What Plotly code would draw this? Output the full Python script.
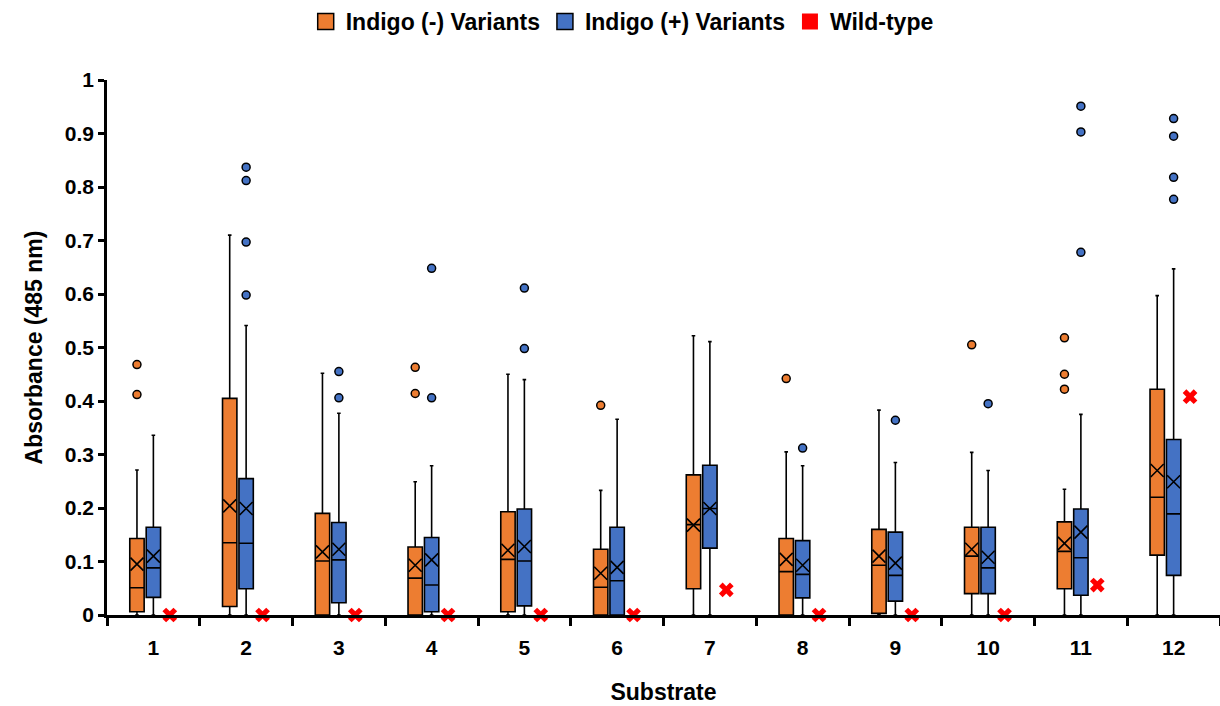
import plotly.graph_objects as go

categories = list(range(1, 12 + 1))
tick_labels = [str(c) for c in categories]

# Indigo (-) Variants
neg_q1 = [0.006, 0.016, 0.0, 0.0, 0.006, 0.0, 0.049, 0.0, 0.003, 0.040, 0.049, 0.112]
neg_median = [0.051, 0.135, 0.101, 0.069, 0.104, 0.052, 0.169, 0.081, 0.093, 0.110, 0.119, 0.220]
neg_q3 = [0.143, 0.405, 0.190, 0.127, 0.193, 0.123, 0.262, 0.143, 0.160, 0.164, 0.174, 0.422]
neg_mean = [0.095, 0.204, 0.118, 0.093, 0.121, 0.078, 0.168, 0.104, 0.110, 0.123, 0.134, 0.270]
neg_lower = [0.0] * 12
neg_upper = [0.271, 0.710, 0.452, 0.249, 0.450, 0.233, 0.522, 0.305, 0.383, 0.304, 0.235, 0.597]
neg_outliers = [[0.468, 0.412], [], [], [0.463, 0.414], [], [0.392], [], [0.442], [], [0.505],
                [0.518, 0.450, 0.422], []]

# Indigo (+) Variants
pos_q1 = [0.033, 0.049, 0.023, 0.006, 0.017, 0.0, 0.125, 0.032, 0.026, 0.040, 0.037, 0.074]
pos_median = [0.088, 0.134, 0.103, 0.056, 0.101, 0.064, 0.199, 0.076, 0.074, 0.088, 0.107, 0.189]
pos_q3 = [0.164, 0.255, 0.173, 0.145, 0.198, 0.164, 0.280, 0.139, 0.155, 0.164, 0.198, 0.328]
pos_mean = [0.110, 0.199, 0.123, 0.103, 0.128, 0.089, 0.199, 0.093, 0.097, 0.108, 0.155, 0.249]
pos_lower = [0.0] * 12
pos_upper = [0.336, 0.541, 0.377, 0.279, 0.440, 0.366, 0.511, 0.279, 0.285, 0.270, 0.375, 0.647]
pos_outliers = [[], [0.837, 0.812, 0.697, 0.598], [0.455, 0.406], [0.648, 0.406], [0.611, 0.498],
                [], [], [0.312], [0.364], [0.395], [0.951, 0.903, 0.678], [0.928, 0.895, 0.818, 0.777]]

# Wild-type
wild_type = [0.0, 0.0, 0.0, 0.0, 0.0, 0.0, 0.047, 0.0, 0.0, 0.0, 0.056, 0.408]

ORANGE = "#ED7D31"
BLUE = "#4472C4"
RED = "#FF0000"
FONT = "Liberation Sans"

OFF = 0.177
BOXW = 0.155

x_neg = [c - OFF for c in categories]
x_pos = [c for c in categories]
x_wt = [c + OFF for c in categories]

fig = go.Figure()

for xs, q1, med, q3, lo, up, color in [
    (x_neg, neg_q1, neg_median, neg_q3, neg_lower, neg_upper, ORANGE),
    (x_pos, pos_q1, pos_median, pos_q3, pos_lower, pos_upper, BLUE),
]:
    fig.add_trace(go.Box(
        x=xs, q1=q1, median=med, q3=q3, lowerfence=lo, upperfence=up,
        width=BOXW, whiskerwidth=0.25, boxpoints=False,
        fillcolor=color, line=dict(color="black", width=1.6),
        showlegend=False, hoverinfo="skip",
    ))

# mean markers
for xs, mean in [(x_neg, neg_mean), (x_pos, pos_mean)]:
    fig.add_trace(go.Scatter(
        x=xs, y=mean, mode="markers",
        marker=dict(symbol="x-thin-open", size=13, color="black",
                    line=dict(color="black", width=1.6)),
        showlegend=False, hoverinfo="skip", cliponaxis=False,
    ))

# outliers
for xs, outs, color in [(x_neg, neg_outliers, ORANGE), (x_pos, pos_outliers, BLUE)]:
    ox, oy = [], []
    for xv, vals in zip(xs, outs):
        for v in vals:
            ox.append(xv)
            oy.append(v)
    fig.add_trace(go.Scatter(
        x=ox, y=oy, mode="markers",
        marker=dict(symbol="circle", size=8, color=color, line=dict(color="black", width=1.5)),
        showlegend=False, hoverinfo="skip", cliponaxis=False,
    ))

# wild-type
fig.add_trace(go.Scatter(
    x=x_wt, y=wild_type, mode="markers",
    marker=dict(symbol="x", size=13, color=RED, line=dict(width=0)),
    showlegend=False, cliponaxis=False,
))

# legend entries
fig.add_trace(go.Scatter(x=[None], y=[None], mode="markers", name="Indigo (-) Variants",
                         marker=dict(symbol="square", size=18, color=ORANGE, line=dict(color="black", width=1.5))))
fig.add_trace(go.Scatter(x=[None], y=[None], mode="markers", name="Indigo (+) Variants",
                         marker=dict(symbol="square", size=18, color=BLUE, line=dict(color="black", width=1.5))))
fig.add_trace(go.Scatter(x=[None], y=[None], mode="markers", name="Wild-type",
                         marker=dict(symbol="square", size=18, color=RED, line=dict(width=0))))

fig.update_layout(
    width=1220, height=706,
    margin=dict(l=107, r=0, t=80, b=91),
    paper_bgcolor="white", plot_bgcolor="white",
    font=dict(family=FONT, color="black", size=20),
    legend=dict(orientation="h", x=0.51, xanchor="center", xref="container",
                y=1.0, yanchor="top", yref="container",
                font=dict(family=FONT, size=23, color="black", weight="bold"),
                itemwidth=30, tracegroupgap=0),
)

fig.update_xaxes(
    range=[0.5, 12.5], tickmode="array", tickvals=categories, ticktext=tick_labels,
    ticks="", showgrid=False, zeroline=False,
    showline=True, linecolor="black", linewidth=2.5,
    tickfont=dict(family=FONT, size=21, color="black", weight="bold"),
    ticklabelstandoff=12,
    minor=dict(tickvals=[c + 0.5 for c in [0] + categories], ticks="outside", ticklen=8,
               tickwidth=2.5, tickcolor="black", showgrid=False),
    title=dict(text="Substrate", font=dict(family=FONT, size=23, color="black", weight="bold"),
               standoff=26),
)

fig.update_yaxes(
    range=[0, 1], dtick=0.1, tick0=0,
    ticks="outside", ticklen=6, tickwidth=2.5, tickcolor="black",
    showgrid=False, zeroline=False,
    showline=True, linecolor="black", linewidth=2.5,
    tickfont=dict(family=FONT, size=21, color="black", weight="bold"),
    title=dict(text="Absorbance (485 nm)", font=dict(family=FONT, size=23, color="black", weight="bold"),
               standoff=16),
)

fig.write_html("out.html")
